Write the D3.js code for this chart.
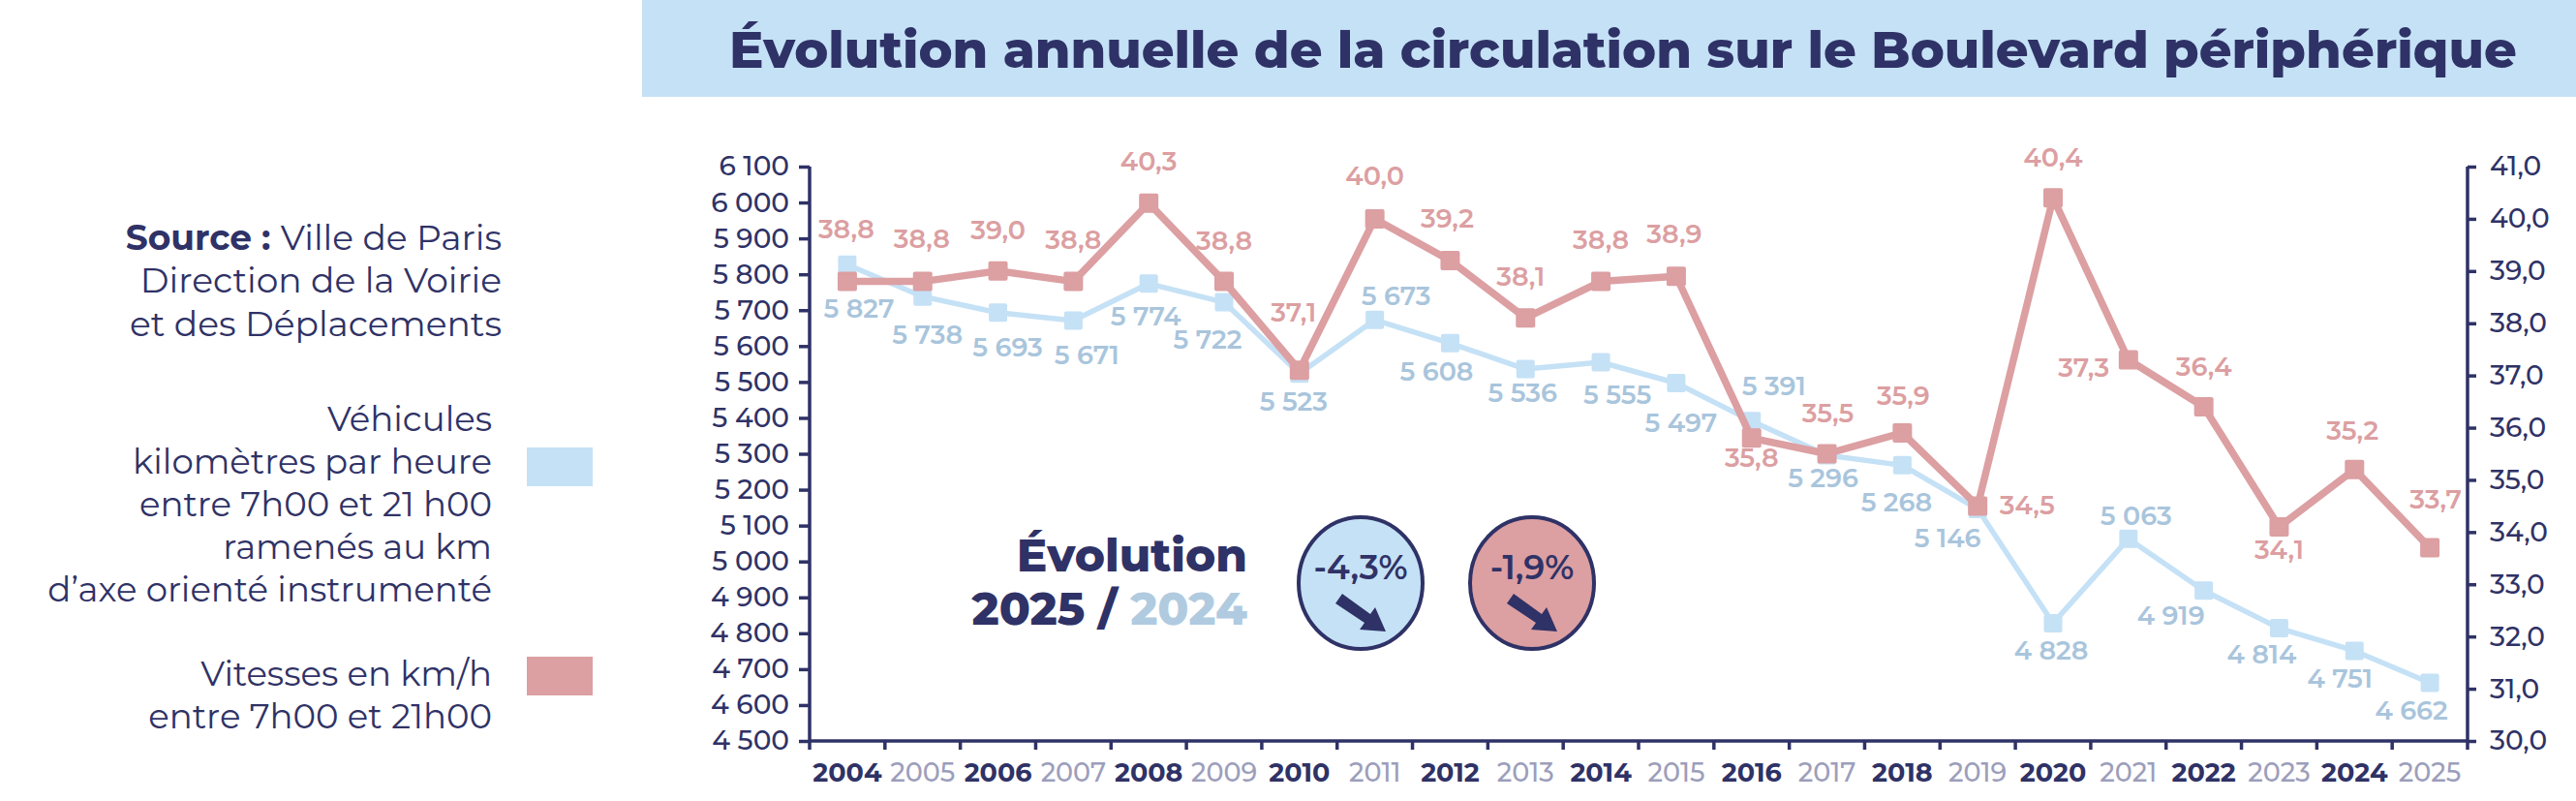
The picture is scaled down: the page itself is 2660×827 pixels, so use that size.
<!DOCTYPE html>
<html lang="fr">
<head>
<meta charset="UTF-8">
<title>Évolution annuelle de la circulation sur le Boulevard périphérique</title>
<script src="https://d3js.org/d3.v7.min.js"></script>
<style>
  body { margin: 0; background: #fff; }
  svg text { font-family: Montserrat, "Noto Sans", sans-serif; }
</style>
</head>
<body>
<div id="chart"></div>
<script>
// --- data ---
var years = ["2004","2005","2006","2007","2008","2009","2010","2011","2012","2013","2014",
             "2015","2016","2017","2018","2019","2020","2021","2022","2023","2024","2025"];
var vehicules = [5827,5738,5693,5671,5774,5722,5523,5673,5608,5536,5555,
                 5497,5391,5296,5268,5146,4828,5063,4919,4814,4751,4662];
var vitesses = [38.8,38.8,39.0,38.8,40.3,38.8,37.1,40.0,39.2,38.1,38.8,
                38.9,35.8,35.5,35.9,34.5,40.4,37.3,36.4,34.1,35.2,33.7];
var leftTicks = [4500,4600,4700,4800,4900,5000,5100,5200,5300,5400,5500,5600,5700,5800,5900,6000,6100];
var rightTicks = [30,31,32,33,34,35,36,37,38,39,40,41];
var evolutions = ["-4,3%", "-1,9%"];

// label placement (baseline offset from the point), kept apart from the data
var blueLabelPos = [[12,55],[5,49],[10,45],[14,45],[-3,43],[-17,48],[-6,38],[22,-15],[-14,39],[-3,34],[17,43],
                    [5,51],[23,-27],[-4,33],[-6,48],[-31,39],[-2,38],[8,-14],[-34,35],[-18,36],[-15,38],[-19,38]];
var pinkLabelPos = [[-1,-45],[-1,-35],[0,-33],[0,-34],[0,-34],[0,-33],[-6,-50],[0,-35],[-3,-34],[-5,-33],[0,-34],
                    [-2,-34],[0,30],[1,-33],[1,-29],[51,9],[0,-32],[-46,18],[0,-32],[0,33],[-2,-31],[6,-41]];

var navy = "#2f3266", lightBlue = "#c5e1f6", blueText = "#a9c5dc",
    pink = "#dc9fa2", pinkText = "#dc9fa2", grayYear = "#9c9ebb";

var width = 2660, height = 827;
var pLeft = 836, pRight = 2548, pTop = 172, pBottom = 765;

var fr = d3.formatLocale({decimal: ",", thousands: " ", grouping: [3], currency: ["", " €"]});
var fmtK = fr.format(",d"), fmt1 = fr.format(".1f");

var svg = d3.select("#chart").append("svg")
    .attr("width", width)
    .attr("height", height);

// title band
svg.append("rect")
    .attr("x", 663).attr("y", 0)
    .attr("width", width - 663).attr("height", 100)
    .attr("fill", lightBlue);
var title = svg.append("text")
    .attr("x", 753).attr("y", 70)
    .attr("font-size", 62).attr("font-weight", 800)
    .attr("fill", navy)
    .text("Évolution annuelle de la circulation sur le Boulevard périphérique");
// size the title so it spans the same width as in the original
var tw = title.node().getComputedTextLength();
if (tw > 0) title.attr("font-size", Math.min(66, 62 * 1846 / tw));

// scales
var x = d3.scaleBand().domain(years).range([pLeft, pRight]).padding(0);
var yL = d3.scaleLinear().domain([4500, 6100]).range([pBottom, pTop]);
var yR = d3.scaleLinear().domain([30, 41]).range([pBottom, pTop]);
var cx = function(d, i){ return x(years[i]) + x.bandwidth() / 2; };

// axes
var axisL = svg.append("g").attr("transform", "translate(" + pLeft + ",0)")
    .call(d3.axisLeft(yL).tickValues(leftTicks).tickSize(11).tickPadding(10).tickFormat(fmtK));
var axisR = svg.append("g").attr("transform", "translate(" + pRight + ",0)")
    .call(d3.axisRight(yR).tickValues(rightTicks).tickSize(9).tickPadding(14).tickFormat(fmt1));
var axisB = svg.append("g").attr("transform", "translate(0," + pBottom + ")")
    .call(d3.axisBottom(x).tickSize(0).tickPadding(23));

[axisL, axisR, axisB].forEach(function(g){
    g.select(".domain").attr("stroke", navy).attr("stroke-width", 3.5);
    g.selectAll(".tick line").attr("stroke", navy).attr("stroke-width", 3.5);
    g.selectAll(".tick text").attr("fill", navy).attr("font-size", 28).attr("font-weight", 500);
});
axisL.select(".domain").attr("d", "M0," + pTop + "V" + pBottom);
axisR.select(".domain").attr("d", "M0," + pTop + "V" + pBottom);
axisB.select(".domain").attr("d", "M" + pLeft + ",0H" + pRight);
axisB.selectAll(".tick text")
    .attr("font-size", 27)
    .attr("font-weight", function(d, i){ return i % 2 === 0 ? 700 : 500; })
    .attr("fill", function(d, i){ return i % 2 === 0 ? navy : grayYear; });

// category boundary ticks below the x axis
var bounds = years.map(function(y){ return x(y); }).concat([pRight]);
svg.append("g").selectAll("line").data(bounds).join("line")
    .attr("x1", function(d){ return d; }).attr("x2", function(d){ return d; })
    .attr("y1", pBottom).attr("y2", pBottom + 9)
    .attr("stroke", navy).attr("stroke-width", 3.5);

// series
function drawSeries(values, scale, color, lw, size){
    var g = svg.append("g");
    g.append("path")
        .datum(values)
        .attr("fill", "none").attr("stroke", color).attr("stroke-width", lw)
        .attr("stroke-linejoin", "round")
        .attr("d", d3.line().x(cx).y(function(d){ return scale(d); }));
    g.selectAll("rect").data(values).join("rect")
        .attr("x", function(d, i){ return cx(d, i) - size / 2; })
        .attr("y", function(d){ return scale(d) - size / 2; })
        .attr("width", size).attr("height", size).attr("rx", 2)
        .attr("fill", color);
}
drawSeries(vehicules, yL, lightBlue, 5.5, 19);
drawSeries(vitesses, yR, pink, 7.5, 20);

// data labels
svg.append("g").selectAll("text").data(vehicules).join("text")
    .attr("x", function(d, i){ return cx(d, i) + blueLabelPos[i][0]; })
    .attr("y", function(d, i){ return yL(d) + blueLabelPos[i][1]; })
    .attr("text-anchor", "middle").attr("font-size", 27).attr("font-weight", 600)
    .attr("fill", blueText)
    .text(fmtK);
svg.append("g").selectAll("text").data(vitesses).join("text")
    .attr("x", function(d, i){ return cx(d, i) + pinkLabelPos[i][0]; })
    .attr("y", function(d, i){ return yR(d) + pinkLabelPos[i][1]; })
    .attr("text-anchor", "middle").attr("font-size", 27).attr("font-weight", 600)
    .attr("fill", pinkText)
    .text(fmt1);

// source + legend (left panel)
var src = svg.append("text").attr("text-anchor", "end").attr("font-size", 36).attr("fill", navy);
var l1 = src.append("tspan").attr("x", 518).attr("y", 258);
l1.append("tspan").attr("font-weight", 700).text("Source : ");
l1.append("tspan").text("Ville de Paris");
src.append("tspan").attr("x", 518).attr("y", 302).text("Direction de la Voirie");
src.append("tspan").attr("x", 518).attr("y", 347).text("et des Déplacements");

var legendLines = [
    ["Véhicules", "kilomètres par heure", "entre 7h00 et 21 h00", "ramenés au km", "d’axe orienté instrumenté"],
    ["Vitesses en km/h", "entre 7h00 et 21h00"]
];
var legendY = [445, 708];
var legendSwatch = [[462, lightBlue], [678, pink]];
legendLines.forEach(function(lines, k){
    var t = svg.append("text").attr("text-anchor", "end").attr("font-size", 35.5).attr("fill", navy);
    lines.forEach(function(s, j){
        t.append("tspan").attr("x", 508).attr("y", legendY[k] + j * 44).text(s);
    });
    svg.append("rect").attr("x", 544).attr("y", legendSwatch[k][0])
        .attr("width", 68).attr("height", 40).attr("fill", legendSwatch[k][1]);
});

// evolution 2025 / 2024 box
svg.append("text").attr("x", 1288).attr("y", 590).attr("text-anchor", "end")
    .attr("font-size", 47).attr("font-weight", 800).attr("fill", navy).text("Évolution");
var ev = svg.append("text").attr("x", 1288).attr("y", 645).attr("text-anchor", "end")
    .attr("font-size", 47).attr("font-weight", 800).attr("fill", navy);
ev.append("tspan").text("2025 / ");
ev.append("tspan").attr("fill", "#b0cbe0").text("2024");

var badges = [[1405, lightBlue], [1582, pink]];
badges.forEach(function(b, i){
    var g = svg.append("g").attr("transform", "translate(" + b[0] + ",602)");
    g.append("ellipse").attr("rx", 64).attr("ry", 68)
        .attr("fill", b[1]).attr("stroke", navy).attr("stroke-width", 4);
    g.append("text").attr("y", -4).attr("text-anchor", "middle")
        .attr("font-size", 35).attr("font-weight", 600).attr("fill", navy)
        .text(evolutions[i]);
    g.append("path")
        .attr("d", "M-26,21 L-19,11 L10,32 L15,25 L26,50 L-1,48 L4,41 Z")
        .attr("fill", navy);
});
</script>
</body>
</html>
